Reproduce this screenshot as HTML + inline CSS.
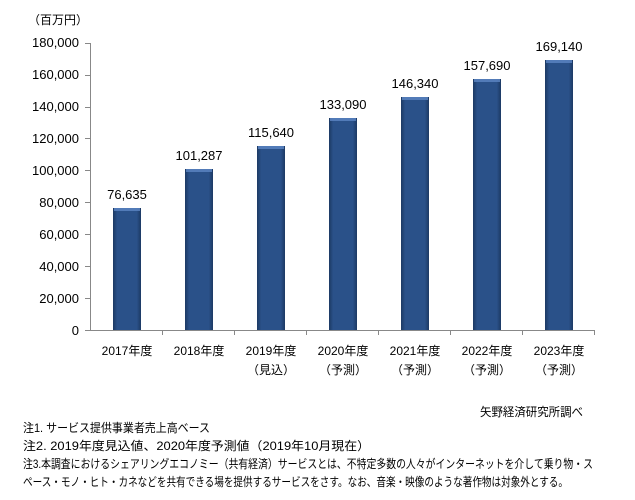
<!DOCTYPE html>
<html><head><meta charset="utf-8"><style>
html,body{margin:0;padding:0;background:#fff;}
svg{display:block;}
text{font-family:"Liberation Sans","Noto Sans CJK JP",sans-serif;fill:#000;}
</style></head><body>
<svg width="635" height="500" viewBox="0 0 635 500" xmlns="http://www.w3.org/2000/svg">
<defs>
<linearGradient id="g" x1="0" x2="1" y1="0" y2="0">
<stop offset="0" stop-color="#1c3963"/>
<stop offset="0.15" stop-color="#2a5189"/>
<stop offset="0.85" stop-color="#2a5189"/>
<stop offset="1" stop-color="#1c3963"/>
</linearGradient>
</defs>
<text x="28" y="24" font-size="12">（百万円）</text>
<g font-size="13" text-anchor="end">
<text x="79" y="335">0</text>
<text x="79" y="303">20,000</text>
<text x="79" y="271">40,000</text>
<text x="79" y="239">60,000</text>
<text x="79" y="207">80,000</text>
<text x="79" y="175">100,000</text>
<text x="79" y="143">120,000</text>
<text x="79" y="111">140,000</text>
<text x="79" y="79">160,000</text>
<text x="79" y="47">180,000</text>
</g>
<g stroke="#888" stroke-width="1" fill="none">
<path d="M90.5 43V330.5H594"/>
<path d="M85 330.5h5M85 298.5h5M85 266.5h5M85 234.5h5M85 202.5h5M85 170.5h5M85 138.5h5M85 107.5h5M85 75.5h5M85 43.5h5"/>
<path d="M162.5 330v5M234.5 330v5M306.5 330v5M378.5 330v5M450.5 330v5M522.5 330v5M594.5 330v5"/>
</g>
<g fill="url(#g)">
<rect x="113" y="208" width="28" height="122"/>
<rect x="185" y="169" width="28" height="161"/>
<rect x="257" y="146" width="28" height="184"/>
<rect x="329" y="118" width="28" height="212"/>
<rect x="401" y="97" width="28" height="233"/>
<rect x="473" y="79" width="28" height="251"/>
<rect x="545" y="60" width="28" height="270"/>
</g>
<g fill="#5d86c4" opacity="0.8">
<rect x="114" y="208" width="26" height="3"/>
<rect x="186" y="169" width="26" height="3"/>
<rect x="258" y="146" width="26" height="3"/>
<rect x="330" y="118" width="26" height="3"/>
<rect x="402" y="97" width="26" height="3"/>
<rect x="474" y="79" width="26" height="3"/>
<rect x="546" y="60" width="26" height="3"/>
</g>
<g font-size="13" text-anchor="middle">
<text x="127" y="199">76,635</text>
<text x="199" y="160">101,287</text>
<text x="271" y="137">115,640</text>
<text x="343" y="109">133,090</text>
<text x="415" y="88">146,340</text>
<text x="487" y="70">157,690</text>
<text x="559" y="51">169,140</text>
</g>
<g font-size="12" text-anchor="middle">
<text x="127" y="355">2017年度</text>
<text x="199" y="355">2018年度</text>
<text x="271" y="355">2019年度</text>
<text x="343" y="355">2020年度</text>
<text x="415" y="355">2021年度</text>
<text x="487" y="355">2022年度</text>
<text x="559" y="355">2023年度</text>
<text x="271" y="374">（見込）</text>
<text x="343" y="374">（予測）</text>
<text x="415" y="374">（予測）</text>
<text x="487" y="374">（予測）</text>
<text x="559" y="374">（予測）</text>
</g>
<g font-size="12">
<text x="480" y="416" textLength="103" lengthAdjust="spacingAndGlyphs">矢野経済研究所調べ</text>
<text x="23" y="432" textLength="187" lengthAdjust="spacingAndGlyphs">注1. サービス提供事業者売上高ベース</text>
<text x="23" y="450" textLength="347" lengthAdjust="spacingAndGlyphs">注2. 2019年度見込値、2020年度予測値（2019年10月現在）</text>
<text x="23" y="468" textLength="570" lengthAdjust="spacingAndGlyphs">注3.本調査におけるシェアリングエコノミー（共有経済）サービスとは、不特定多数の人々がインターネットを介して乗り物・ス</text>
<text x="23" y="486" textLength="545" lengthAdjust="spacingAndGlyphs">ペース・モノ・ヒト・カネなどを共有できる場を提供するサービスをさす。なお、音楽・映像のような著作物は対象外とする。</text>
</g>
</svg>
</body></html>
